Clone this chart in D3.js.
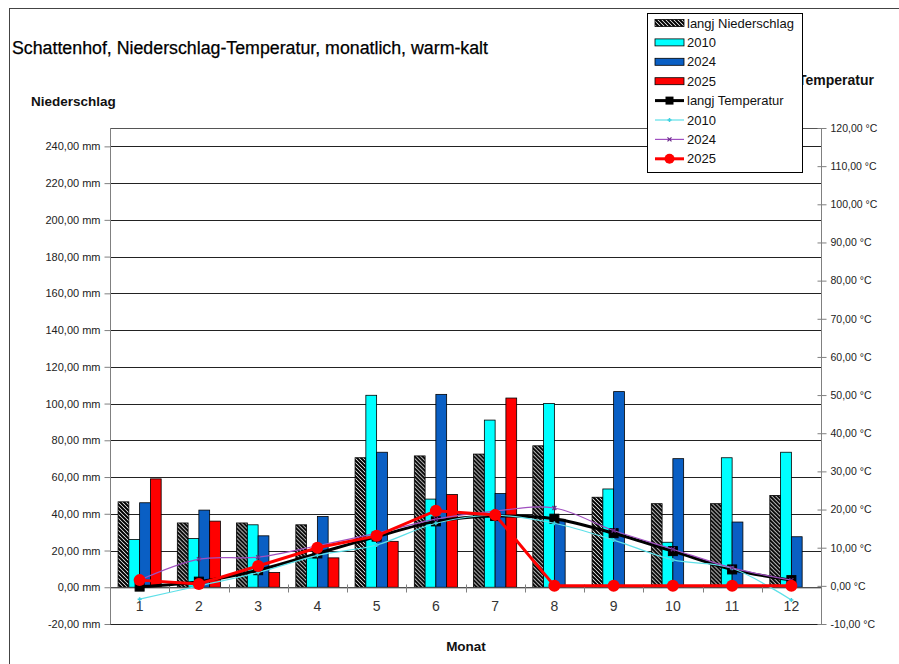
<!DOCTYPE html>
<html><head><meta charset="utf-8">
<script src="https://cdn.jsdelivr.net/npm/d3@7"></script>
<style>
html,body{margin:0;padding:0;background:#fff;}
svg{display:block;font-family:"Liberation Sans",Arial,sans-serif;}
</style></head>
<body>
<svg id="chart" width="899" height="664"></svg>
<script>
// ---------- data ----------
const months = [1,2,3,4,5,6,7,8,9,10,11,12];
const precipLangj = [46.5, 35, 35, 34, 70.5, 71.5, 72.5, 77, 49, 45.5, 45.5, 50];
const precip2010  = [26, 26.5, 34, 16, 104.5, 48, 91, 100, 53.5, 24.5, 70.5, 73.5];
const precip2024  = [46, 42, 28, 38.5, 73.5, 105, 51, 37, 106.5, 70, 35.5, 27.5];
const precip2025  = [59, 36, 8, 16, 25, 50.5, 103, 0, 0, 0, 0, 0];
const tempLangj = [-0.2, 1.1, 4.1, 8.5, 12.9, 16.9, 18.3, 17.6, 13.8, 9.1, 4.3, 1.5];
const temp2010  = [-3.5, 0, 3.5, 8, 10.7, 16.4, 18.5, 16.4, 12, 6.8, 4.6, -3.7];
const temp2024  = [1.5, 7, 7.5, 10.5, 13.8, 17.5, 19.6, 20.4, 14.5, 9.6, 4.7, 1.5];
const temp2025  = [1.5, 0.5, 5.2, 10, 13.1, 19.7, 18.6, 0, 0, 0, 0, 0];
const precipTicks = [-20,0,20,40,60,80,100,120,140,160,180,200,220,240];
const tempTicks = [-10,0,10,20,30,40,50,60,70,80,90,100,110,120];
const titleText = "Schattenhof, Niederschlag-Temperatur, monatlich, warm-kalt";
const legendLabels = ["langj Niederschlag","2010","2024","2025","langj Temperatur","2010","2024","2025"];

// ---------- setup ----------
const svg = d3.select("#chart");
const L = 110, R = 821, T = 128, B = 624;
const loc = d3.formatLocale({decimal:",", thousands:".", grouping:[3], currency:["",""], minus:"-"});
const f2 = loc.format(".2f");

const x = d3.scaleBand().domain(months).range([L, R]).padding(0);
const barKeys = ["langj","y2010","y2024","y2025"];
const xi = d3.scaleBand().domain(barKeys).range([0, x.bandwidth()]).paddingInner(0).paddingOuter(0.75);
const yL = d3.scaleLinear().domain([-20, 250]).range([B, T]);
const yR = d3.scaleLinear().domain([-10, 120]).range([B, T]);

const defs = svg.append("defs");
const pat = defs.append("pattern").attr("id","hatch").attr("patternUnits","userSpaceOnUse")
  .attr("width",4).attr("height",4);
pat.append("rect").attr("width",4).attr("height",4).attr("fill","#fff");
pat.append("path").attr("d","M-1,-1 L5,5 M-1,3 L1,5 M3,-1 L5,1").attr("stroke","#000").attr("stroke-width",2);

// outer border
svg.append("rect").attr("x",9.5).attr("y",8.5).attr("width",900).attr("height",670)
  .attr("fill","none").attr("stroke","#444").attr("stroke-width",1);

// title
svg.append("text").attr("x",12).attr("y",54).attr("font-size",18).attr("fill","#000")
  .attr("stroke","#000").attr("stroke-width",0.25)
  .attr("textLength",476).attr("lengthAdjust","spacingAndGlyphs").text(titleText);

// axis titles
svg.append("text").attr("x",31).attr("y",106).attr("font-size",13.5).attr("font-weight","bold")
  .attr("fill","#111").text("Niederschlag");
svg.append("text").attr("x",874).attr("y",85).attr("font-size",14).attr("font-weight","bold")
  .attr("text-anchor","end").attr("fill","#111").text("Temperatur");
svg.append("text").attr("x",466).attr("y",651).attr("font-size",13.5).attr("font-weight","bold")
  .attr("text-anchor","middle").attr("fill","#111").text("Monat");

// gridlines
svg.append("g").selectAll("line").data(precipTicks).join("line")
  .attr("x1",L).attr("x2",R).attr("y1",d=>Math.round(yL(d))+0.5).attr("y2",d=>Math.round(yL(d))+0.5)
  .attr("stroke","#222").attr("stroke-width",1);
// plot top border
svg.append("line").attr("x1",L).attr("x2",R).attr("y1",T+0.5).attr("y2",T+0.5).attr("stroke","#555");

// left axis
const gL = svg.append("g").attr("transform",`translate(${L+0.5},0)`)
  .call(d3.axisLeft(yL).tickValues(precipTicks).tickSize(6).tickPadding(4).tickFormat(d=>f2(d)+" mm"));
gL.select(".domain").attr("stroke","#808080").attr("d",`M0,${T}V${B}`);
gL.selectAll(".tick line").attr("stroke","#808080");
gL.selectAll(".tick text").attr("font-size",11).attr("fill","#222").attr("font-family","Liberation Sans, Arial, sans-serif");

// right axis
const gR = svg.append("g").attr("transform",`translate(${R+0.5},0)`)
  .call(d3.axisRight(yR).tickValues(tempTicks).tickSize(5).tickPadding(4).tickFormat(d=>f2(d)+" °C"));
gR.select(".domain").attr("stroke","#808080").attr("d",`M0,${T}V${B}`);
gR.selectAll(".tick line").attr("stroke","#808080").attr("x1",-4);
gR.selectAll(".tick text").attr("font-size",10.5).attr("fill","#222").attr("font-family","Liberation Sans, Arial, sans-serif");

// bars
const barData = months.map((m,i)=>({m, vals:[
  {k:"langj",v:precipLangj[i],fill:"url(#hatch)"},
  {k:"y2010",v:precip2010[i],fill:"#00FFFF"},
  {k:"y2024",v:precip2024[i],fill:"#0A5FC4"},
  {k:"y2025",v:precip2025[i],fill:"#FF0000"}]}));
const gB = svg.append("g");
gB.selectAll("g").data(barData).join("g").attr("transform",d=>`translate(${x(d.m)},0)`)
  .selectAll("rect").data(d=>d.vals.filter(v=>v.v>0)).join("rect")
  .attr("x",d=>xi(d.k)).attr("width",xi.bandwidth())
  .attr("y",d=>yL(d.v)).attr("height",d=>yL(0)-yL(d.v))
  .attr("fill",d=>d.fill).attr("stroke","#000").attr("stroke-width",0.8);

// category axis at 0 mm
const y0 = Math.round(yL(0))+0.5;
const gX = svg.append("g").attr("transform",`translate(0,${y0})`)
  .call(d3.axisBottom(x).tickSize(0).tickPadding(14));
gX.select(".domain").attr("stroke","#808080");
gX.selectAll(".tick text").attr("font-size",14).attr("fill","#333").attr("font-family","Liberation Sans, Arial, sans-serif");
svg.append("g").selectAll("line").data(months.slice(0)).join("line")
  .attr("x1",d=>Math.round(x(d))+0.5).attr("x2",d=>Math.round(x(d))+0.5)
  .attr("y1",y0-3).attr("y2",y0+5).attr("stroke","#808080");
svg.append("line").attr("x1",R+0.5).attr("x2",R+0.5).attr("y1",y0-3).attr("y2",y0+5).attr("stroke","#808080");

// lines
const xc = m => x(m) + x.bandwidth()/2;
const smooth = d3.line().x((d,i)=>xc(months[i])).y(d=>yR(d)).curve(d3.curveCardinal.tension(0));
const straight = d3.line().x((d,i)=>xc(months[i])).y(d=>yR(d));
const gLines = svg.append("g");

// langj Temperatur
gLines.append("path").attr("d",smooth(tempLangj)).attr("fill","none").attr("stroke","#000").attr("stroke-width",3);
gLines.append("g").selectAll("rect").data(tempLangj).join("rect")
  .attr("x",(d,i)=>xc(months[i])-4.5).attr("y",d=>yR(d)-4.5).attr("width",9).attr("height",9)
  .attr("fill","#000").attr("stroke","#000");
// 2010
gLines.append("path").attr("d",smooth(temp2010)).attr("fill","none").attr("stroke","#5EE0E8").attr("stroke-width",1.2);
gLines.append("g").selectAll("path").data(temp2010).join("path")
  .attr("d",(d,i)=>{const cx=xc(months[i]),cy=yR(d);return `M${cx-2},${cy}H${cx+2}M${cx},${cy-2}V${cy+2}`;})
  .attr("stroke","#3FD0E0").attr("stroke-width",1.5);
// 2024
gLines.append("path").attr("d",smooth(temp2024)).attr("fill","none").attr("stroke","#A050C0").attr("stroke-width",1.2);
gLines.append("g").selectAll("path").data(temp2024).join("path")
  .attr("d",(d,i)=>{const cx=xc(months[i]),cy=yR(d);return `M${cx-2},${cy-2}L${cx+2},${cy+2}M${cx-2},${cy+2}L${cx+2},${cy-2}`;})
  .attr("stroke","#6A2A8A").attr("stroke-width",1.2);
// 2025
gLines.append("path").attr("d",straight(temp2025)).attr("fill","none").attr("stroke","#FF0000").attr("stroke-width",3);
gLines.append("g").selectAll("circle").data(temp2025).join("circle")
  .attr("cx",(d,i)=>xc(months[i])).attr("cy",d=>yR(d)).attr("r",6).attr("fill","#FF0000");

// legend
const lg = svg.append("g");
lg.append("rect").attr("x",647.5).attr("y",13.5).attr("width",155).attr("height",159)
  .attr("fill","#fff").attr("stroke","#000").attr("stroke-width",1);
const rowY = i => 23 + i*19.4;
const sx0 = 655, sx1 = 684, scx = 669.5;
const barFills = ["url(#hatch)","#00FFFF","#0A5FC4","#FF0000"];
barFills.forEach((f,i)=>{
  lg.append("rect").attr("x",sx0).attr("y",rowY(i)-3.5).attr("width",sx1-sx0).attr("height",7)
    .attr("fill",f).attr("stroke","#000").attr("stroke-width",0.8);
});
// line samples
lg.append("line").attr("x1",sx0).attr("x2",sx1).attr("y1",rowY(4)).attr("y2",rowY(4)).attr("stroke","#000").attr("stroke-width",3);
lg.append("rect").attr("x",scx-4).attr("y",rowY(4)-4).attr("width",8).attr("height",8).attr("fill","#000");
lg.append("line").attr("x1",sx0).attr("x2",sx1).attr("y1",rowY(5)).attr("y2",rowY(5)).attr("stroke","#5EE0E8").attr("stroke-width",1.2);
lg.append("path").attr("d",`M${scx-2},${rowY(5)}H${scx+2}M${scx},${rowY(5)-2}V${rowY(5)+2}`).attr("stroke","#3FD0E0").attr("stroke-width",1.5);
lg.append("line").attr("x1",sx0).attr("x2",sx1).attr("y1",rowY(6)).attr("y2",rowY(6)).attr("stroke","#A050C0").attr("stroke-width",1.2);
lg.append("path").attr("d",`M${scx-2},${rowY(6)-2}L${scx+2},${rowY(6)+2}M${scx-2},${rowY(6)+2}L${scx+2},${rowY(6)-2}`).attr("stroke","#6A2A8A").attr("stroke-width",1.2);
lg.append("line").attr("x1",sx0).attr("x2",sx1).attr("y1",rowY(7)).attr("y2",rowY(7)).attr("stroke","#FF0000").attr("stroke-width",3);
lg.append("circle").attr("cx",scx).attr("cy",rowY(7)).attr("r",5).attr("fill","#FF0000");
lg.selectAll("text.lt").data(legendLabels).join("text").attr("class","lt")
  .attr("x",687).attr("y",(d,i)=>rowY(i)+4.5).attr("font-size",13).attr("fill","#111").text(d=>d);
</script>
</body></html>
